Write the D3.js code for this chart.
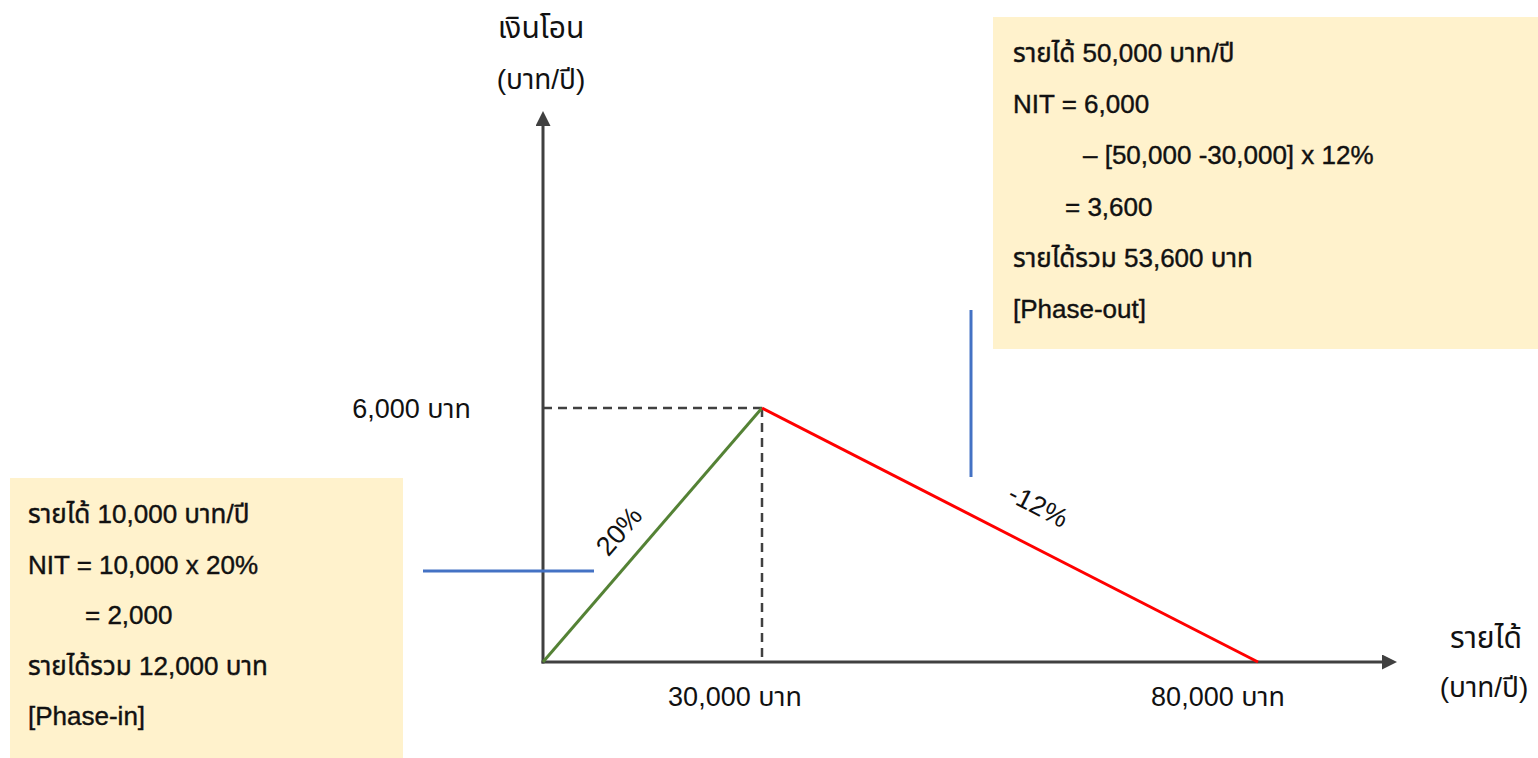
<!DOCTYPE html>
<html><head><meta charset="utf-8">
<script src="https://cdn.jsdelivr.net/npm/d3@7"></script>
<style>
html,body{margin:0;padding:0;background:#fff;}
svg{display:block;font-family:"Liberation Sans",Arial,"Noto Sans Thai",Tahoma,sans-serif;}
</style></head><body>
<svg id="c" width="1538" height="758"></svg>
<script>
// Data
const incomes = [0, 30000, 80000];          // baht/year
const transfers = [0, 6000, 0];            // baht/year (NIT)
const rates = ["20%", "-12%"];
const xTickValues = [30000, 80000];
const xTickLabels = ["30,000 บาท", "80,000 บาท"];
const yTickValues = [6000];
const yTickLabels = ["6,000 บาท"];
const yAxisTitle = ["เงินโอน", "(บาท/ปี)"];
const xAxisTitle = ["รายได้", "(บาท/ปี)"];
const phaseInText = ["รายได้ 10,000 บาท/ปี", "NIT = 10,000 x 20%", "= 2,000", "รายได้รวม 12,000 บาท", "[Phase-in]"];
const phaseOutText = ["รายได้ 50,000 บาท/ปี", "NIT = 6,000", "– [50,000 -30,000] x 12%", "= 3,600", "รายได้รวม 53,600 บาท", "[Phase-out]"];

const svg = d3.select("#c");
// schematic (piecewise) income scale
const x = d3.scaleLinear().domain([0, 30000, 80000]).range([543, 762, 1258]);
const y = d3.scaleLinear().domain([0, 6000]).range([662, 408]);

const axisCol = "#404040";
const txtCol = "#111";

// annotation boxes
const gBoxes = svg.append("g");
gBoxes.append("rect").attr("x", 993).attr("y", 17).attr("width", 545).attr("height", 332).attr("fill", "#FFF2CC");
gBoxes.append("rect").attr("x", 10).attr("y", 478).attr("width", 393).attr("height", 280).attr("fill", "#FFF2CC");

function boxText(t, xx, yy) {
  gBoxes.append("text").attr("x", xx).attr("y", yy)
    .attr("font-size", 26).attr("fill", txtCol).attr("stroke", txtCol).attr("stroke-width", 0.4)
    .text(t);
}
const outIndent = [0, 0, 70, 52, 0, 0];
phaseOutText.forEach((t, i) => boxText(t, 1013 + outIndent[i], 62 + i * 51.2));
const inIndent = [0, 0, 57, 0, 0];
phaseInText.forEach((t, i) => boxText(t, 28 + inIndent[i], 523 + i * 50.5));

// arrow marker
svg.append("defs").append("marker").attr("id", "arr").attr("viewBox", "0 0 10 10")
  .attr("refX", 0).attr("refY", 5).attr("markerWidth", 5).attr("markerHeight", 5)
  .attr("markerUnits", "strokeWidth").attr("orient", "auto")
  .append("path").attr("d", "M0,0 L10,5 L0,10 Z").attr("fill", axisCol);

// guide dashed lines
svg.append("line").attr("x1", x(0)).attr("x2", x(30000)).attr("y1", y(6000)).attr("y2", y(6000))
  .attr("stroke", axisCol).attr("stroke-width", 2.5).attr("stroke-dasharray", "9,6");
svg.append("line").attr("x1", x(30000)).attr("x2", x(30000)).attr("y1", y(6000)).attr("y2", y(0))
  .attr("stroke", axisCol).attr("stroke-width", 2.5).attr("stroke-dasharray", "9,6");

// axes
svg.append("line").attr("x1", x(0)).attr("y1", y(0) + 1.5).attr("x2", x(0)).attr("y2", 126)
  .attr("stroke", axisCol).attr("stroke-width", 3).attr("marker-end", "url(#arr)");
svg.append("line").attr("x1", x(0) - 1.5).attr("y1", y(0)).attr("x2", 1382).attr("y2", y(0))
  .attr("stroke", axisCol).attr("stroke-width", 3).attr("marker-end", "url(#arr)");

// NIT schedule
const pts = incomes.map((v, i) => [x(v), y(transfers[i])]);
svg.append("line").attr("x1", pts[0][0]).attr("y1", pts[0][1]).attr("x2", pts[1][0]).attr("y2", pts[1][1])
  .attr("stroke", "#548235").attr("stroke-width", 3);
svg.append("line").attr("x1", pts[1][0]).attr("y1", pts[1][1]).attr("x2", pts[2][0]).attr("y2", pts[2][1])
  .attr("stroke", "#FF0000").attr("stroke-width", 3);

// rate labels
const a1 = Math.atan2(pts[1][1] - pts[0][1], pts[1][0] - pts[0][0]) * 180 / Math.PI;
const a2 = Math.atan2(pts[2][1] - pts[1][1], pts[2][0] - pts[1][0]) * 180 / Math.PI;
svg.append("text").attr("transform", `translate(626,537) rotate(${a1})`).attr("text-anchor", "middle")
  .attr("font-size", 27).attr("fill", txtCol).text(rates[0]);
svg.append("text").attr("transform", `translate(1034,514) rotate(${a2})`).attr("text-anchor", "middle")
  .attr("font-size", 27).attr("fill", txtCol).text(rates[1]);

// pointer lines
svg.append("line").attr("x1", 423).attr("x2", 594).attr("y1", 571).attr("y2", 571)
  .attr("stroke", "#4472C4").attr("stroke-width", 3);
svg.append("line").attr("x1", 971).attr("x2", 971).attr("y1", 310).attr("y2", 477)
  .attr("stroke", "#4472C4").attr("stroke-width", 3);

// tick labels
xTickValues.forEach((v, i) => {
  svg.append("text").attr("x", x(v) - (i === 0 ? 27 : 40)).attr("y", 706).attr("text-anchor", "middle")
    .attr("font-size", 27).attr("fill", txtCol).text(xTickLabels[i]);
});
yTickValues.forEach((v, i) => {
  svg.append("text").attr("x", 471).attr("y", y(v) + 10).attr("text-anchor", "end")
    .attr("font-size", 27).attr("fill", txtCol).text(yTickLabels[i]);
});

// axis titles
svg.append("text").attr("x", 541).attr("y", 38).attr("text-anchor", "middle").attr("font-size", 30).attr("fill", txtCol).text(yAxisTitle[0]);
svg.append("text").attr("x", 541).attr("y", 89).attr("text-anchor", "middle").attr("font-size", 28).attr("fill", txtCol).text(yAxisTitle[1]);
svg.append("text").attr("x", 1486).attr("y", 648).attr("text-anchor", "middle").attr("font-size", 30).attr("fill", txtCol).text(xAxisTitle[0]);
svg.append("text").attr("x", 1484).attr("y", 697).attr("text-anchor", "middle").attr("font-size", 28).attr("fill", txtCol).text(xAxisTitle[1]);
</script>
</body></html>
